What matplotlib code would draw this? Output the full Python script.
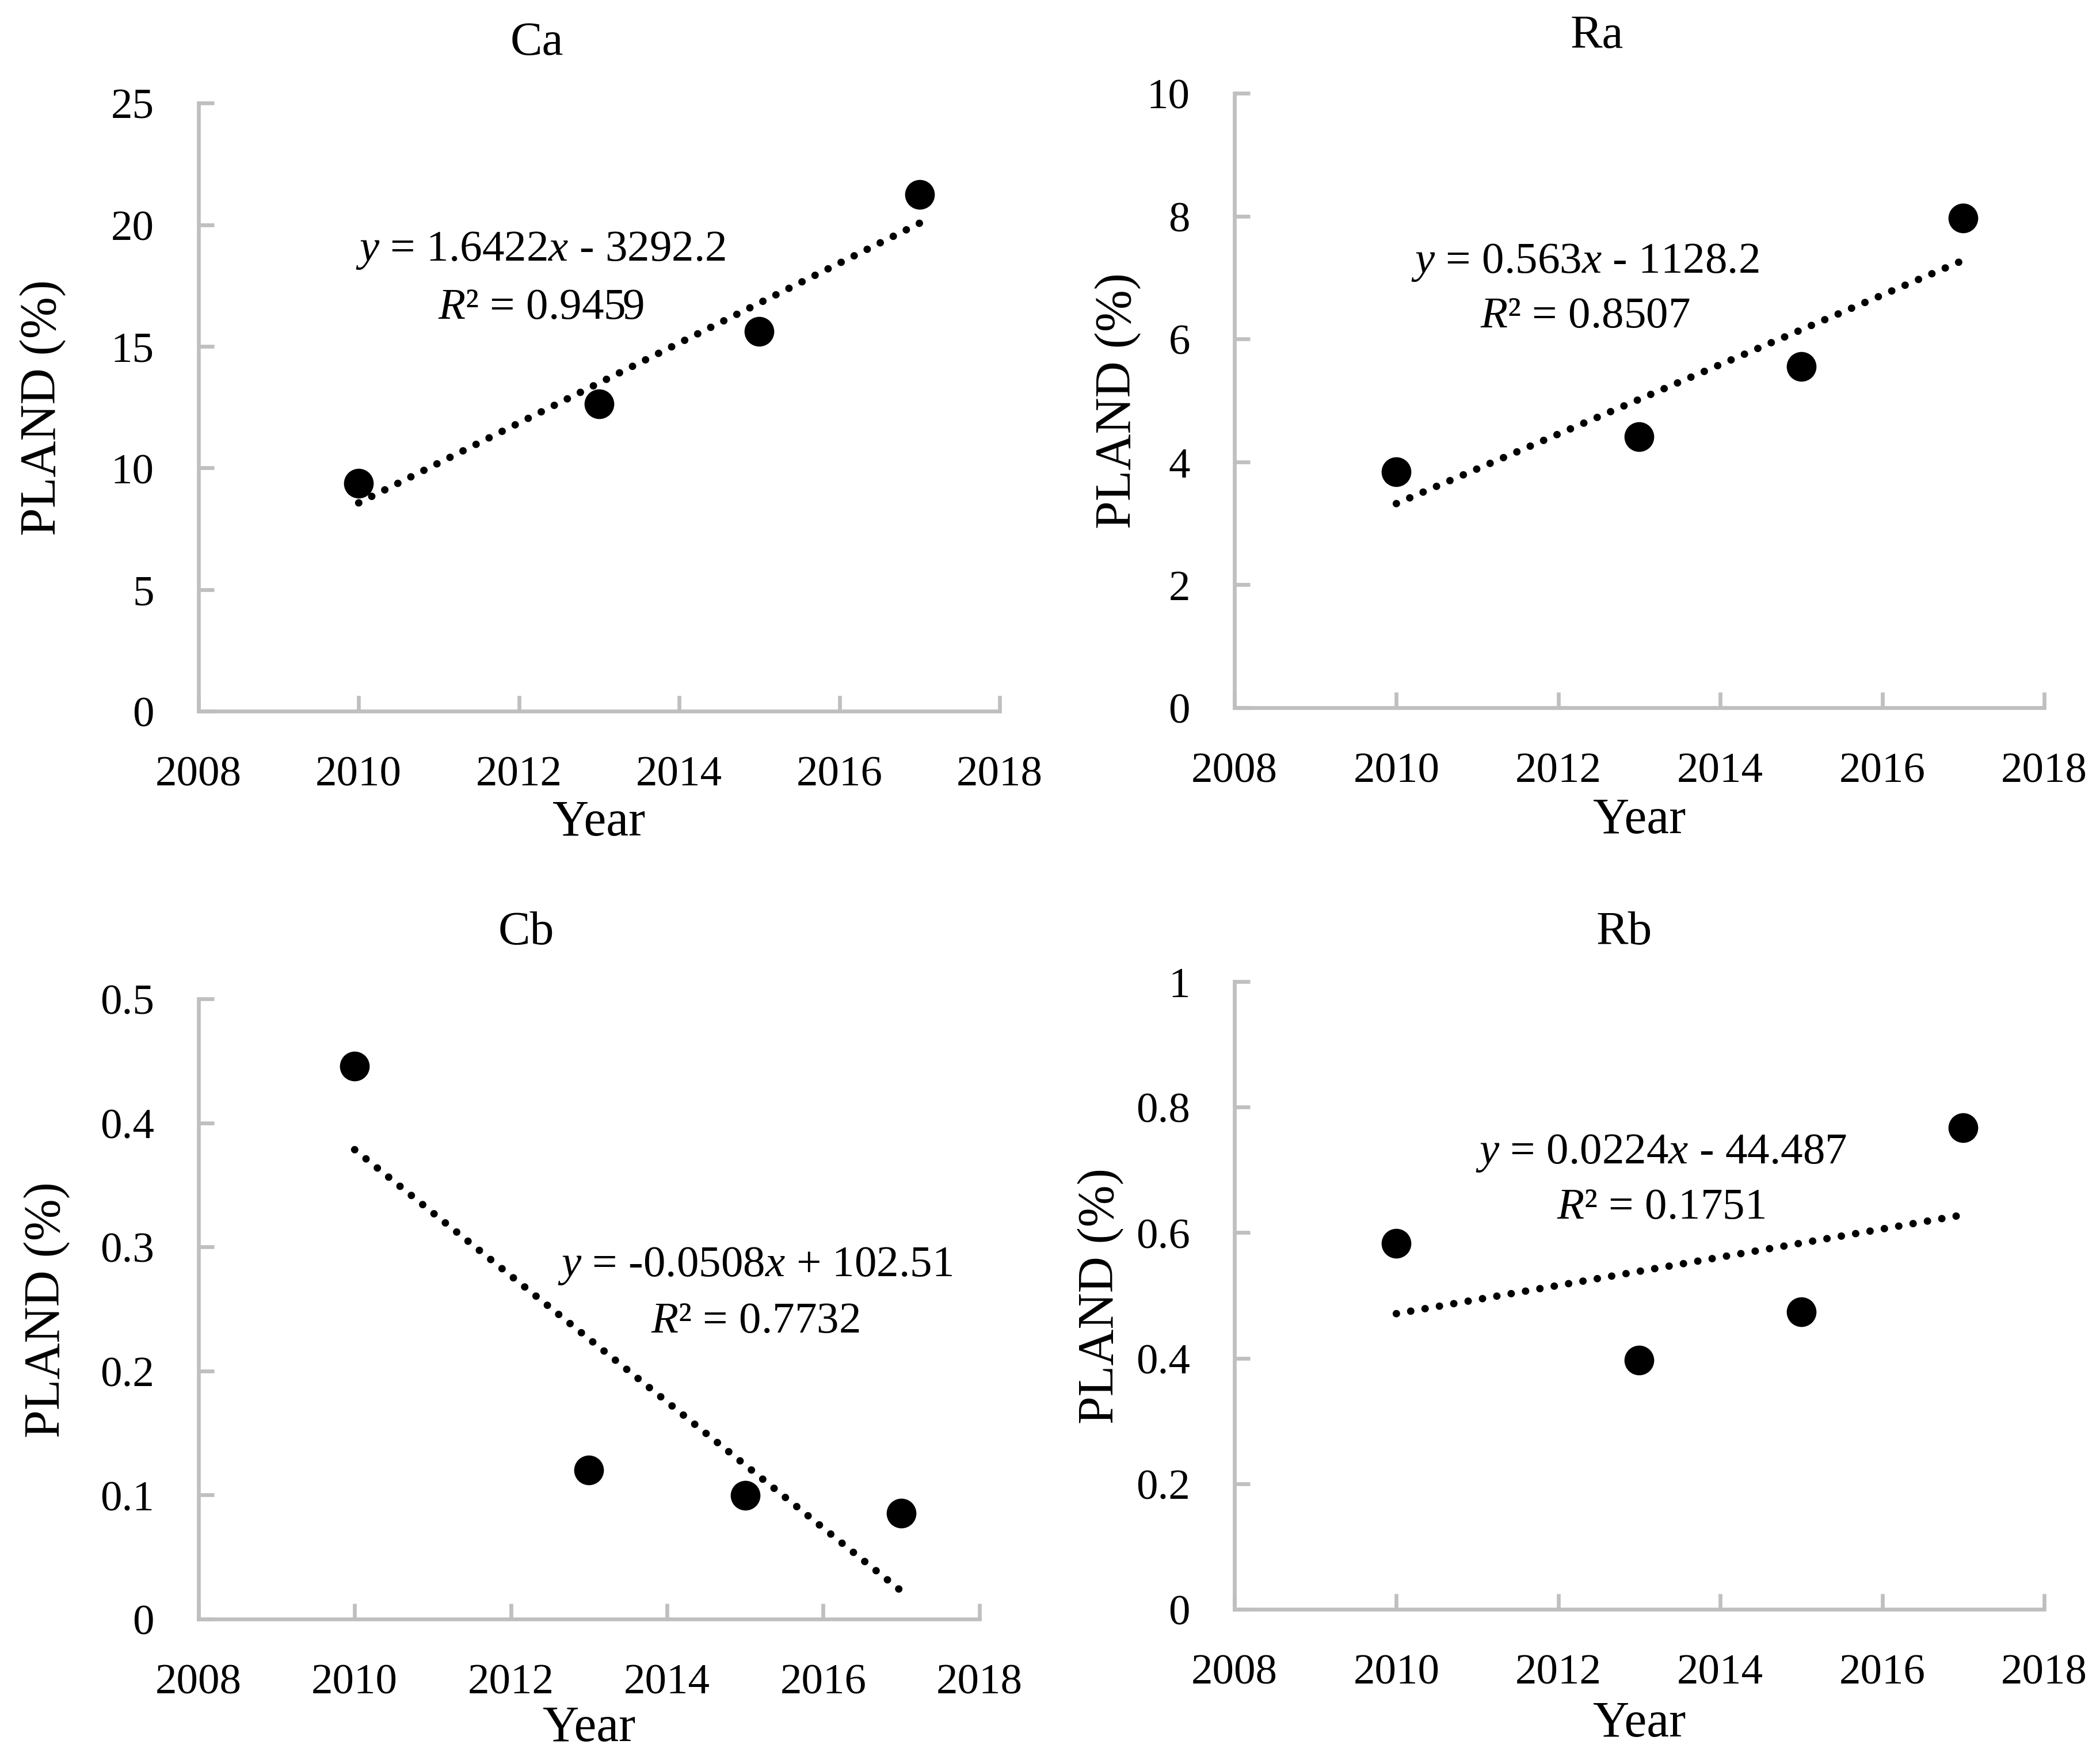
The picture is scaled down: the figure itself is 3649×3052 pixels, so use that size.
import matplotlib
matplotlib.use("Agg")
import matplotlib.pyplot as plt
import numpy as np

plt.rcParams['font.family'] = ['Liberation Serif', 'DejaVu Serif']
plt.rcParams['mathtext.fontset'] = 'custom'
plt.rcParams['mathtext.rm'] = 'Liberation Serif'
plt.rcParams['mathtext.it'] = 'Liberation Serif:italic'

years = [2010, 2013, 2015, 2017]

ca_vals = [9.38, 12.64, 15.62, 21.25]
ra_vals = [3.84, 4.41, 5.55, 7.97]
cb_vals = [0.446, 0.120, 0.0996, 0.0855]
rb_vals = [0.583, 0.397, 0.474, 0.767]

titles = ["Ca", "Ra", "Cb", "Rb"]
equations = ["$y$ = 1.6422$x$ - 3292.2", "$y$ = 0.563$x$ - 1128.2",
             "$y$ = -0.0508$x$ + 102.51", "$y$ = 0.0224$x$ - 44.487"]
r_squared = ["$R$² = 0.9459", "$R$² = 0.8507", "$R$² = 0.7732", "$R$² = 0.1751"]
y_maxes = [25, 10, 0.5, 1]
y_steps = [5, 2, 0.1, 0.2]

GREY = "#BFBFBF"

# layout, all in figure fractions
panels = [
    # axes rect, title xy, ylabel xy, xlabel y, eq xy (axes), r2 y (axes)
    dict(rect=[0.0945, 0.5948, 0.3815, 0.3462], title=(0.2557, 0.9754), ylab=(0.0203, 0.7680),
         xlab_y=0.5316, eq=(0.427, 0.742), r2_y=0.646),
    dict(rect=[0.5878, 0.5968, 0.3856, 0.3498], title=(0.7605, 0.9794), ylab=(0.5324, 0.7717),
         xlab_y=0.5326, eq=(0.433, 0.709), r2_y=0.620),
    dict(rect=[0.0945, 0.0780, 0.3719, 0.3530], title=(0.2505, 0.4690), ylab=(0.0224, 0.2545),
         xlab_y=0.0160, eq=(0.713, 0.554), r2_y=0.463),
    dict(rect=[0.5878, 0.0835, 0.3856, 0.3574], title=(0.7733, 0.4690), ylab=(0.5240, 0.2623),
         xlab_y=0.0185, eq=(0.527, 0.711), r2_y=0.623),
]

fig = plt.figure(figsize=(3649 / 300, 3053 / 300), dpi=300)

series = [ca_vals, ra_vals, cb_vals, rb_vals]
for i, vals in enumerate(series):
    p = panels[i]
    ax = fig.add_axes(p["rect"])

    # linear trendline from the points
    slope, intercept = np.polyfit(years, vals, 1)
    xs = np.array([years[0], years[-1]])
    ax.plot(xs, slope * xs + intercept, color="black", lw=3.1,
            linestyle=(0, (0.01, 1.95)), dash_capstyle="round", zorder=2)
    ax.plot(years, vals, "o", color="black", markersize=11.4, zorder=3)

    ax.set_xlim(2008, 2018)
    ax.set_xticks(range(2008, 2019, 2))
    ax.set_ylim(0, y_maxes[i])
    yt = np.round(np.arange(0, y_maxes[i] + y_steps[i] / 2, y_steps[i]), 3)
    ax.set_yticks(yt)
    ax.set_yticklabels([f"{v:g}" for v in yt])

    for side in ["top", "right"]:
        ax.spines[side].set_visible(False)
    for side in ["left", "bottom"]:
        ax.spines[side].set_color(GREY)
        ax.spines[side].set_linewidth(1.6)
    ax.tick_params(direction="in", length=6.5, width=1.6, color=GREY,
                   labelsize=18, pad=18.5, labelcolor="black")

    ax.text(p["eq"][0], p["eq"][1], equations[i], transform=ax.transAxes,
            ha="center", va="baseline", fontsize=18.5)
    ax.text(p["eq"][0], p["r2_y"], r_squared[i], transform=ax.transAxes,
            ha="center", va="baseline", fontsize=18.5)

    fig.text(p["title"][0], p["title"][1], titles[i], ha="center", va="center", fontsize=20)
    fig.text(p["ylab"][0], p["ylab"][1], "PLAND (%)", rotation=90,
             ha="center", va="center", fontsize=21)
    fig.text(p["rect"][0] + p["rect"][2] / 2, p["xlab_y"], "Year",
             ha="center", va="center", fontsize=21)

fig.savefig("out.png", dpi=300, facecolor="white")
